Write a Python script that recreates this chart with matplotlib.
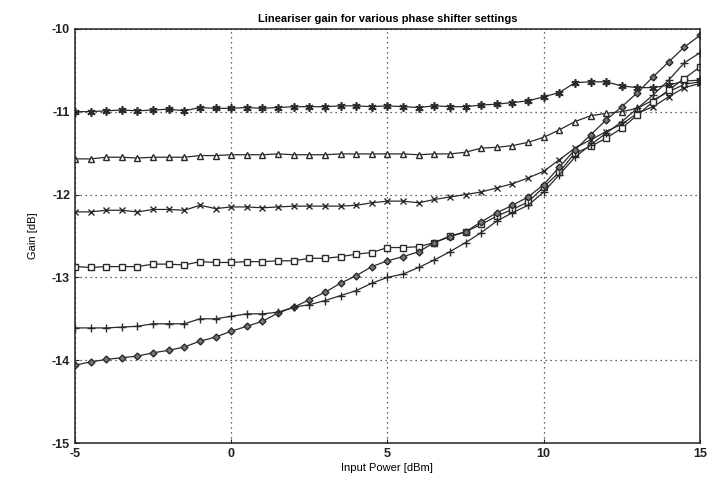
import matplotlib
matplotlib.use('Agg')
import numpy as np
import matplotlib.pyplot as plt

plt.rcParams['font.family'] = ['Liberation Sans', 'DejaVu Sans']
plt.rcParams['axes.unicode_minus'] = False

# input power, -5 .. 15 dBm in 0.5 dB steps
p_in = np.arange(-5, 15.01, 0.5)

# gain [dB] for each phase shifter setting
g_star = [-11.00, -11.00, -10.99, -10.98, -10.99, -10.98, -10.97, -10.99, -10.95, -10.96,
          -10.96, -10.95, -10.96, -10.95, -10.94, -10.94, -10.94, -10.93, -10.93, -10.94,
          -10.93, -10.94, -10.95, -10.93, -10.94, -10.94, -10.92, -10.91, -10.89, -10.87,
          -10.82, -10.77, -10.65, -10.64, -10.64, -10.69, -10.71, -10.71, -10.68, -10.63, -10.62]
g_tri = [-11.57, -11.57, -11.55, -11.55, -11.56, -11.55, -11.55, -11.55, -11.53, -11.53,
         -11.52, -11.52, -11.52, -11.51, -11.52, -11.52, -11.52, -11.51, -11.51, -11.51,
         -11.51, -11.51, -11.52, -11.51, -11.51, -11.49, -11.44, -11.43, -11.41, -11.37,
         -11.31, -11.22, -11.12, -11.05, -11.02, -11.00, -10.96, -10.86, -10.76, -10.67, -10.64]
g_x = [-12.21, -12.21, -12.19, -12.19, -12.21, -12.18, -12.18, -12.19, -12.13, -12.17,
       -12.15, -12.15, -12.16, -12.15, -12.14, -12.14, -12.14, -12.14, -12.13, -12.10,
       -12.08, -12.08, -12.10, -12.06, -12.03, -12.00, -11.97, -11.92, -11.87, -11.80,
       -11.72, -11.58, -11.44, -11.34, -11.24, -11.15, -11.02, -10.94, -10.82, -10.71, -10.66]
g_sq = [-12.87, -12.88, -12.87, -12.87, -12.87, -12.84, -12.84, -12.85, -12.81, -12.82,
        -12.82, -12.81, -12.81, -12.80, -12.80, -12.77, -12.77, -12.75, -12.72, -12.70,
        -12.64, -12.64, -12.63, -12.58, -12.50, -12.45, -12.36, -12.26, -12.18, -12.09,
        -11.91, -11.73, -11.50, -11.42, -11.32, -11.20, -11.04, -10.88, -10.74, -10.60, -10.46]
g_dia = [-14.06, -14.02, -13.99, -13.97, -13.95, -13.91, -13.88, -13.84, -13.77, -13.72,
         -13.65, -13.59, -13.53, -13.43, -13.36, -13.27, -13.18, -13.07, -12.98, -12.87,
         -12.80, -12.75, -12.69, -12.58, -12.51, -12.45, -12.33, -12.22, -12.13, -12.03,
         -11.88, -11.67, -11.46, -11.28, -11.10, -10.94, -10.77, -10.58, -10.40, -10.22, -10.08]
g_plus = [-13.61, -13.61, -13.61, -13.60, -13.59, -13.56, -13.56, -13.56, -13.50, -13.50,
          -13.47, -13.44, -13.44, -13.42, -13.36, -13.33, -13.28, -13.22, -13.16, -13.07,
          -13.00, -12.96, -12.88, -12.79, -12.69, -12.58, -12.46, -12.32, -12.22, -12.13,
          -11.97, -11.76, -11.55, -11.40, -11.26, -11.12, -10.96, -10.80, -10.62, -10.41, -10.29]

fig = plt.figure(figsize=(7.07, 4.88), dpi=100)
ax = fig.add_axes([0.106, 0.092, 0.884, 0.849])

col = '#2a2a2a'
# asterisk marker like matlab '*'
ax.plot(p_in, g_star, '-', marker=(6, 2, 0), color=col, lw=0.9, ms=6, mew=1.2)
ax.plot(p_in, g_tri, '-^', color=col, lw=0.9, ms=4.5, mfc='white')
ax.plot(p_in, g_x, '-x', color=col, lw=0.9, ms=5)
ax.plot(p_in, g_sq, '-s', color=col, lw=0.9, ms=4.5, mfc='white')
ax.plot(p_in, g_dia, '-D', color=col, lw=0.9, ms=3.5, mfc='#777777')
ax.plot(p_in, g_plus, '-+', color=col, lw=0.9, ms=6)

ax.set_xlim(-5, 15)
ax.set_ylim(-15, -10)
ax.set_xticks([-5, 0, 5, 10, 15])
ax.set_yticks([-15, -14, -13, -12, -11, -10])
ax.grid(True, color='#333333', linestyle=(0, (1, 3)), linewidth=0.9)
for s in ax.spines.values():
    s.set_color('#222222')
    s.set_linewidth(1.1)
ax.tick_params(direction='in', length=3, labelsize=9, colors='#222222')
for lab in ax.get_xticklabels() + ax.get_yticklabels():
    lab.set_fontweight('bold')

ax.set_title('Lineariser gain for various phase shifter settings', fontsize=8, fontweight='bold', pad=5)
ax.set_xlabel('Input Power [dBm]', fontsize=8, labelpad=2)
ax.set_ylabel('Gain [dB]', fontsize=8, labelpad=10)

fig.savefig('out.png', dpi=100)
